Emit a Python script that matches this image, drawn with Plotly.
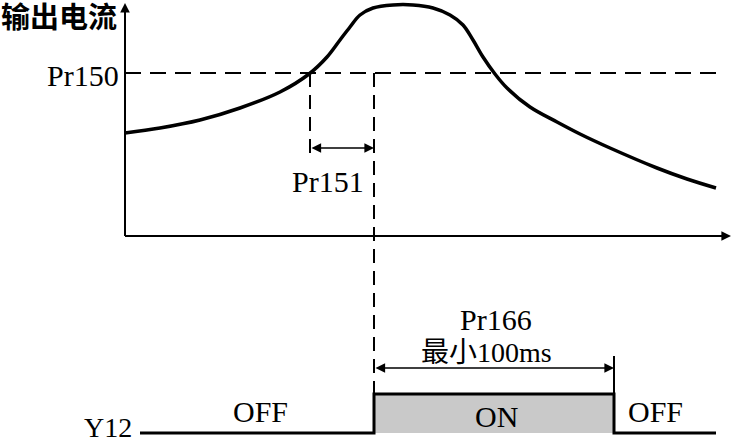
import plotly.graph_objects as go

# Output current curve (time, current) in drawing units; y grows downward
curve_t = [125, 160, 200, 240, 280, 309, 327, 340, 350, 360, 373, 393, 413, 433,
           450, 463, 473, 483, 495, 507, 530, 557, 580, 610, 657, 687, 716]
curve_i = [133, 128, 120, 108, 92, 74, 57, 40, 27, 15, 8, 5, 5, 8,
           15, 25, 40, 57, 74, 88, 107, 122, 134, 148, 168, 179, 188]

# Threshold / timing marks
pr150_level = 73
pr151_start = 310
pr151_end = 374
on_end = 614

# Y12 digital output signal
sig_t = [140, 374, 374, 614, 614, 716]
sig_v = [433, 433, 394, 394, 433, 433]
on_t = [374, 374, 614, 614]
on_v = [433, 394, 394, 433]

SERIF = "Liberation Serif, Times New Roman, serif"
CJK = "Liberation Serif, Noto Sans CJK SC, serif"

fig = go.Figure()

# axes of the upper chart
fig.add_trace(go.Scatter(x=[125, 125], y=[236, 12], mode="lines",
                         line=dict(color="black", width=2), hoverinfo="skip"))
fig.add_trace(go.Scatter(x=[125, 722], y=[236, 236], mode="lines",
                         line=dict(color="black", width=2), hoverinfo="skip"))

# Pr150 threshold dashed line
fig.add_trace(go.Scatter(x=[125, 720], y=[pr150_level, pr150_level], mode="lines",
                         line=dict(color="black", width=1.8, dash="16px,9px"), hoverinfo="skip"))
# vertical dashed markers
fig.add_trace(go.Scatter(x=[pr151_start, pr151_start], y=[pr150_level, 156], mode="lines",
                         line=dict(color="black", width=2, dash="14px,8px"), hoverinfo="skip"))
fig.add_trace(go.Scatter(x=[pr151_end, pr151_end], y=[pr150_level, 394], mode="lines",
                         line=dict(color="black", width=2, dash="14px,8px"), hoverinfo="skip"))

# current curve
fig.add_trace(go.Scatter(x=curve_t, y=curve_i, mode="lines",
                         line=dict(color="black", width=3.5, shape="spline", smoothing=1.0),
                         hoverinfo="skip"))

# ON block and signal
fig.add_trace(go.Scatter(x=on_t, y=on_v, mode="lines", fill="toself",
                         fillcolor="#c9c9c9", line=dict(width=0), hoverinfo="skip"))
fig.add_trace(go.Scatter(x=sig_t, y=sig_v, mode="lines",
                         line=dict(color="black", width=3), hoverinfo="skip"))
fig.add_trace(go.Scatter(x=[on_end, on_end], y=[394, 356], mode="lines",
                         line=dict(color="black", width=2), hoverinfo="skip"))

# arrows
def arrow(x0, y0, x1, y1, both=False, size=1.2):
    fig.add_annotation(x=x1, y=y1, ax=x0, ay=y0, xref="x", yref="y", axref="x", ayref="y",
                       showarrow=True, arrowhead=2, arrowsize=size, arrowwidth=1.6,
                       arrowcolor="black", arrowside="end+start" if both else "end", text="")

arrow(125, 30, 125, 3)
arrow(700, 236, 731, 236)
arrow(pr151_start, 148, pr151_end, 148, both=True)
arrow(pr151_end, 368, on_end, 368, both=True)

# texts
def label(x, y, text, size=30, family=SERIF, anchor="center"):
    fig.add_annotation(x=x, y=y, xref="x", yref="y", text=text, showarrow=False,
                       xanchor=anchor, yanchor="middle",
                       font=dict(family=family, size=size, color="black"))

label(119, 18, "<b>输出电流</b>", size=29, family=CJK, anchor="right")
label(121, 75, "Pr150", anchor="right")
label(328, 181, "Pr151")
label(496, 319, "Pr166")
label(486, 352, "最小100ms", size=28, family=CJK)
label(108, 427, "Y12", size=28, anchor="center")
label(260, 411, "OFF")
label(496, 416, "ON")
label(655, 411, "OFF")

fig.update_layout(
    width=733, height=442,
    margin=dict(l=0, r=0, t=0, b=0),
    plot_bgcolor="white", paper_bgcolor="white",
    showlegend=False,
    xaxis=dict(range=[0, 733], visible=False, fixedrange=True),
    yaxis=dict(range=[442, 0], visible=False, fixedrange=True),
)

# drop the default page margin so the figure sits at the window's corner
fig.write_html("out.html", config={"displayModeBar": False},
               post_script="document.body.style.margin = '0';")
